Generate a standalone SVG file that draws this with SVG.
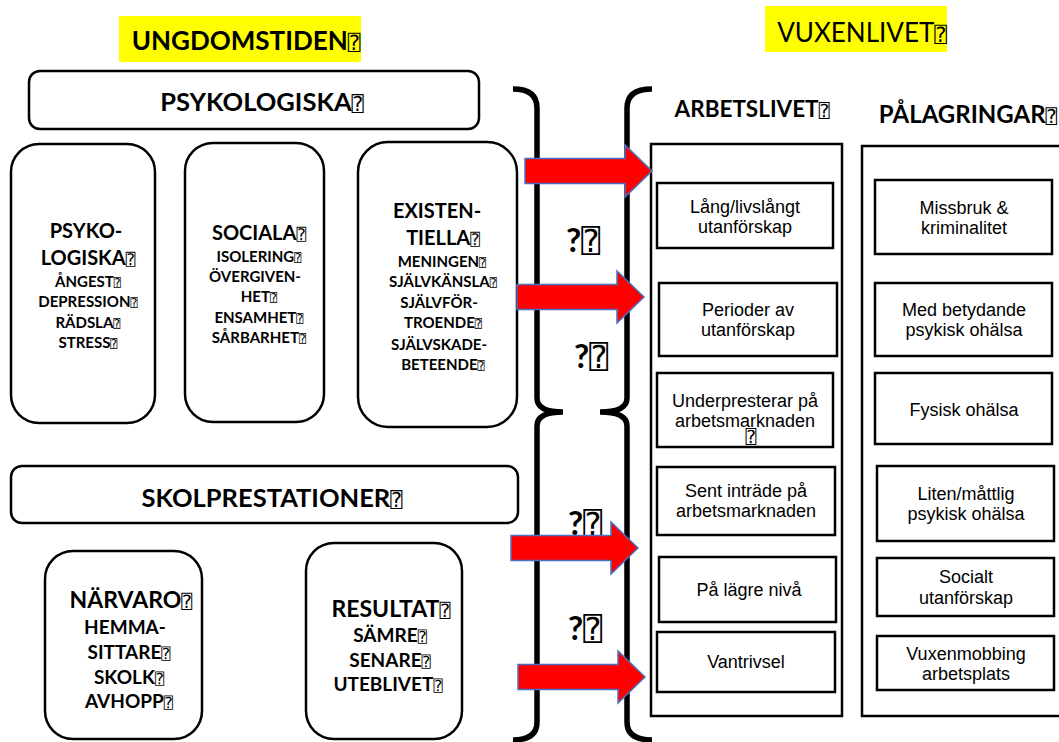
<svg xmlns="http://www.w3.org/2000/svg" width="1059" height="742" viewBox="0 0 1059 742">
<style>
.bg{fill:#fff}
.rb{fill:#fff;stroke:#000;stroke-width:2.5}
.bx{fill:#fff;stroke:#000;stroke-width:2.5}
.hl{fill:#ffff00}
.t{font-family:Lato,'Liberation Sans',sans-serif;font-weight:700;text-anchor:middle;fill:#000}
.big{font-size:20px}
.sm{font-size:15px}
.sm2{font-size:19px}
.big2{font-size:23px}
.h{font-size:25.5px}
.a{font-family:'Liberation Sans',Arial,sans-serif;font-size:18px;text-anchor:middle;fill:#000}
.q{font-family:'DejaVu Sans Mono','DejaVu Sans',sans-serif;font-weight:400;font-size:0.8em}
.brace{fill:none;stroke:#000;stroke-width:5.5;stroke-linecap:butt}
.arrow{fill:#ff0000;stroke:#4a72c0;stroke-width:1.5;stroke-linejoin:miter}
.qm{font-family:Lato,'Liberation Sans',sans-serif;font-weight:700;font-size:33px;fill:#000}
.qm .q{font-size:0.95em}
</style>
<defs>
<path id="arr" d="M -127,-12.5 H -27 V -26 L 0,0 L -27,26 V 12.5 H -127 Z"/>
</defs>
<rect class="bg" x="0" y="0" width="1059" height="742"/>

<g id="title-ungdom">
<rect class="hl" x="119" y="16" width="242" height="46"/>
<text class="t" x="246" y="50" font-size="26">UNGDOMSTIDEN<tspan class="q">⍰</tspan></text>
</g>
<g id="title-vuxen">
<rect class="hl" x="765" y="6" width="182" height="46"/>
<text x="862" y="42" font-family="Lato,'Liberation Sans',sans-serif" font-size="26" text-anchor="middle">VUXENLIVET<tspan class="q">⍰</tspan></text>
</g>

<g id="psykologiska-header">
<rect class="rb" x="29" y="71" width="450" height="58" rx="11"/>
<text class="t h" x="262" y="111">PSYKOLOGISKA<tspan class="q">⍰</tspan></text>
</g>

<g id="psyko-box">
<rect class="rb" x="11" y="144" width="144" height="279" rx="28"/>
<text class="t big" x="86" y="238">PSYKO-</text>
<text class="t big" x="88" y="265">LOGISKA<tspan class="q">⍰</tspan></text>
<text class="t sm" x="88" y="287">ÅNGEST<tspan class="q">⍰</tspan></text>
<text class="t sm" x="88" y="307">DEPRESSION<tspan class="q">⍰</tspan></text>
<text class="t sm" x="88" y="328">RÄDSLA<tspan class="q">⍰</tspan></text>
<text class="t sm" x="88" y="348">STRESS<tspan class="q">⍰</tspan></text>
</g>

<g id="sociala-box">
<rect class="rb" x="185" y="143" width="139" height="279" rx="28"/>
<text class="t big" x="259" y="240">SOCIALA<tspan class="q">⍰</tspan></text>
<text class="t sm" x="259" y="262">ISOLERING<tspan class="q">⍰</tspan></text>
<text class="t sm" x="255" y="282">ÖVERGIVEN-</text>
<text class="t sm" x="259" y="302">HET<tspan class="q">⍰</tspan></text>
<text class="t sm" x="259" y="323">ENSAMHET<tspan class="q">⍰</tspan></text>
<text class="t sm" x="259" y="343">SÅRBARHET<tspan class="q">⍰</tspan></text>
</g>

<g id="existentiella-box">
<rect class="rb" x="358" y="142" width="159" height="285" rx="30"/>
<text class="t big" x="437" y="218">EXISTEN-</text>
<text class="t big" x="443" y="245">TIELLA<tspan class="q">⍰</tspan></text>
<text class="t sm" x="442" y="267">MENINGEN<tspan class="q">⍰</tspan></text>
<text class="t sm" x="443" y="287">SJÄLVKÄNSLA<tspan class="q">⍰</tspan></text>
<text class="t sm" x="439" y="308">SJÄLVFÖR-</text>
<text class="t sm" x="443" y="328">TROENDE<tspan class="q">⍰</tspan></text>
<text class="t sm" x="439" y="350">SJÄLVSKADE-</text>
<text class="t sm" x="443" y="370">BETEENDE<tspan class="q">⍰</tspan></text>
</g>

<g id="skolprestationer-header">
<rect class="rb" x="11" y="466" width="507" height="57" rx="11"/>
<text class="t h" x="272" y="507">SKOLPRESTATIONER<tspan class="q">⍰</tspan></text>
</g>

<g id="narvaro-box">
<rect class="rb" x="45" y="551" width="157" height="188" rx="28"/>
<text class="t big2" x="131" y="608">NÄRVARO<tspan class="q">⍰</tspan></text>
<text class="t sm2" x="125" y="634">HEMMA-</text>
<text class="t sm2" x="129" y="659">SITTARE<tspan class="q">⍰</tspan></text>
<text class="t sm2" x="129" y="684">SKOLK<tspan class="q">⍰</tspan></text>
<text class="t sm2" x="129" y="708">AVHOPP<tspan class="q">⍰</tspan></text>
</g>

<g id="resultat-box">
<rect class="rb" x="306" y="543" width="156" height="196" rx="28"/>
<text class="t big2" x="391" y="617">RESULTAT<tspan class="q">⍰</tspan></text>
<text class="t sm2" x="390" y="642">SÄMRE<tspan class="q">⍰</tspan></text>
<text class="t sm2" x="390" y="667">SENARE<tspan class="q">⍰</tspan></text>
<text class="t sm2" x="388" y="691">UTEBLIVET<tspan class="q">⍰</tspan></text>
</g>

<g id="arbetslivet">
<text class="t" x="752" y="117" font-size="22.5">ARBETSLIVET<tspan class="q">⍰</tspan></text>
<rect class="bx" x="651" y="144" width="191" height="572"/>
</g>
<g id="palagringar">
<text class="t" x="968" y="123" font-size="24">PÅLAGRINGAR<tspan class="q">⍰</tspan></text>
<rect class="bx" x="862" y="146" width="210" height="570"/>
</g>

<g id="a-lang">
<rect class="bx" x="657" y="183" width="176" height="65"/>
<text class="a" x="745" y="213">Lång/livslångt</text>
<text class="a" x="745" y="233">utanförskap</text>
</g>
<g id="a-perioder">
<rect class="bx" x="659" y="283" width="178" height="73"/>
<text class="a" x="748" y="316">Perioder av</text>
<text class="a" x="748" y="336">utanförskap</text>
</g>
<g id="a-under">
<rect class="bx" x="657" y="373" width="176" height="74"/>
<text class="a" x="745" y="407">Underpresterar på</text>
<text class="a" x="745" y="427">arbetsmarknaden</text>
<text class="a" x="751" y="443" font-size="13"><tspan font-family="'DejaVu Sans Mono','DejaVu Sans',sans-serif">⍰</tspan></text>
</g>
<g id="a-sent">
<rect class="bx" x="657" y="467" width="178" height="68"/>
<text class="a" x="746" y="497">Sent inträde på</text>
<text class="a" x="746" y="517">arbetsmarknaden</text>
</g>
<g id="a-lagre">
<rect class="bx" x="659" y="557" width="177" height="65"/>
<text class="a" x="749" y="596">På lägre nivå</text>
</g>
<g id="a-vantrivsel">
<rect class="bx" x="657" y="632" width="178" height="60"/>
<text class="a" x="746" y="668">Vantrivsel</text>
</g>

<g id="p-missbruk">
<rect class="bx" x="875" y="180" width="177" height="74"/>
<text class="a" x="964" y="214">Missbruk &amp;</text>
<text class="a" x="964" y="234">kriminalitet</text>
</g>
<g id="p-betydande">
<rect class="bx" x="875" y="283" width="177" height="73"/>
<text class="a" x="964" y="316">Med betydande</text>
<text class="a" x="964" y="336">psykisk ohälsa</text>
</g>
<g id="p-fysisk">
<rect class="bx" x="875" y="373" width="177" height="71"/>
<text class="a" x="964" y="416">Fysisk ohälsa</text>
</g>
<g id="p-liten">
<rect class="bx" x="877" y="466" width="177" height="75"/>
<text class="a" x="966" y="500">Liten/måttlig</text>
<text class="a" x="966" y="520">psykisk ohälsa</text>
</g>
<g id="p-socialt">
<rect class="bx" x="877" y="558" width="177" height="58"/>
<text class="a" x="966" y="583">Socialt</text>
<text class="a" x="966" y="604">utanförskap</text>
</g>
<g id="p-vuxenmobbing">
<rect class="bx" x="877" y="636" width="177" height="54"/>
<text class="a" x="966" y="660">Vuxenmobbing</text>
<text class="a" x="966" y="680">arbetsplats</text>
</g>

<g id="braces">
<path class="brace" d="M513,89 Q537,89 537,108 L537,398 Q537,412 563,412 M563,412 Q537,412 537,426 L537,722 Q537,740 513,740"/>
<path class="brace" d="M652,89 Q627,89 627,108 L627,398 Q627,412 600,412 M600,412 Q627,412 627,426 L627,722 Q627,740 652,740"/>
</g>

<g id="questions">
<text class="qm" x="566" y="252">?<tspan class="q">⍰</tspan></text>
<text class="qm" x="574" y="368">?<tspan class="q">⍰</tspan></text>
<text class="qm" x="568" y="535">?<tspan class="q">⍰</tspan></text>
<text class="qm" x="568" y="640">?<tspan class="q">⍰</tspan></text>
</g>

<g id="connectors">
<use href="#arr" class="arrow" transform="translate(652,171)"/>
<use href="#arr" class="arrow" transform="translate(644,297)"/>
<use href="#arr" class="arrow" transform="translate(638,548)"/>
<use href="#arr" class="arrow" transform="translate(645,677)"/>
</g>
</svg>
